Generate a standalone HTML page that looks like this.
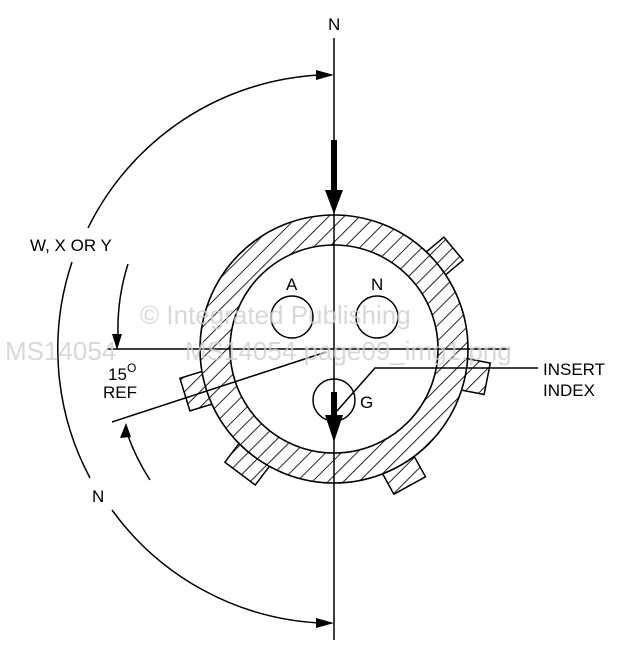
<!DOCTYPE html>
<html><head><style>
html,body{margin:0;padding:0;background:#fff;}
svg{display:block;}
text{font-family:"Liberation Sans",Arial,sans-serif;}
</style></head><body>
<svg width="628" height="664" viewBox="0 0 628 664" xmlns="http://www.w3.org/2000/svg">
<defs>
<pattern id="h" patternUnits="userSpaceOnUse" width="11" height="11" patternTransform="rotate(45)">
<rect width="11" height="11" fill="#fff"/>
<line x1="0" y1="0" x2="0" y2="11" stroke="#000" stroke-width="1.7"/>
</pattern>
</defs>
<!-- lugs -->
<g fill="url(#h)" stroke="#000" stroke-width="1.5">
<polygon points="435.5,283.3 463.1,260.2 443.9,237.2 416.3,260.3"/>
<polygon points="214.3,367.7 179.9,378.3 189.9,410.9 224.3,400.3"/>
<polygon points="448.7,387.6 484.1,394.5 490.3,363.1 454.9,356.2"/>
<polygon points="246.6,433.5 224.9,462.2 255.3,485.0 277.0,456.3"/>
<polygon points="376.4,462.7 393.9,494.2 425.5,476.8 408.0,445.3"/>
</g>
<circle cx="334" cy="349" r="134" fill="url(#h)" stroke="#000" stroke-width="1.6"/>
<circle cx="334" cy="349" r="104" fill="#fff" stroke="#000" stroke-width="1.6"/>
<!-- pins -->
<g fill="none" stroke="#000" stroke-width="1.5">
<circle cx="292" cy="317" r="21"/>
<circle cx="377" cy="317" r="21"/>
<circle cx="334" cy="400" r="21"/>
</g>
<g font-size="17" fill="#000">
<text x="286" y="290">A</text>
<text x="371" y="290">N</text>
<text x="360" y="408">G</text>
<text x="328" y="30">N</text>
<text x="92" y="502">N</text>
<text x="30" y="251">W, X OR Y</text>
<text x="108" y="380">15</text><text x="127" y="372" font-size="12">O</text>
<text x="103" y="398">REF</text>
<text x="543" y="375">INSERT</text>
<text x="543" y="396">INDEX</text>
</g>
<!-- center lines -->
<g stroke="#000" stroke-width="1.5" fill="none">
<line x1="334" y1="38" x2="334" y2="640"/>
<line x1="107" y1="349" x2="510" y2="349"/>
<line x1="112" y1="422" x2="326" y2="352"/>
<polyline points="336,412 375,368 538,368"/>
<path d="M 320 75 A 274 274 0 0 0 88 228"/>
<path d="M 72 262 A 274 274 0 0 0 90 478"/>
<path d="M 112 510 A 274 274 0 0 0 320 623"/>
<path d="M 128 264 A 215 215 0 0 0 118 335"/>
<path d="M 126 430 A 215 215 0 0 0 150 480"/>
</g>
<!-- arrowheads -->
<g fill="#000">
<polygon points="334,75 316,70 316,80"/>
<polygon points="334,623 316,618 316,628"/>
<polygon points="117,350 112,334 122,334"/>
<polygon points="126,423 120,438 131,437"/>
<rect x="331" y="140" width="6" height="52"/>
<polygon points="325,190 343,190 334,214"/>
<rect x="331" y="392" width="6" height="26"/>
<polygon points="325,415 343,415 334,442"/>
</g>
<!-- watermark -->
<g fill="#cfcfcf" font-size="26" opacity="0.8">
<text x="140" y="324">© Integrated Publishing</text>
<text x="5" y="360">MS14054</text>
<text x="185" y="360">MS14054 page09_img1.png</text>
</g>
</svg>
</body></html>
